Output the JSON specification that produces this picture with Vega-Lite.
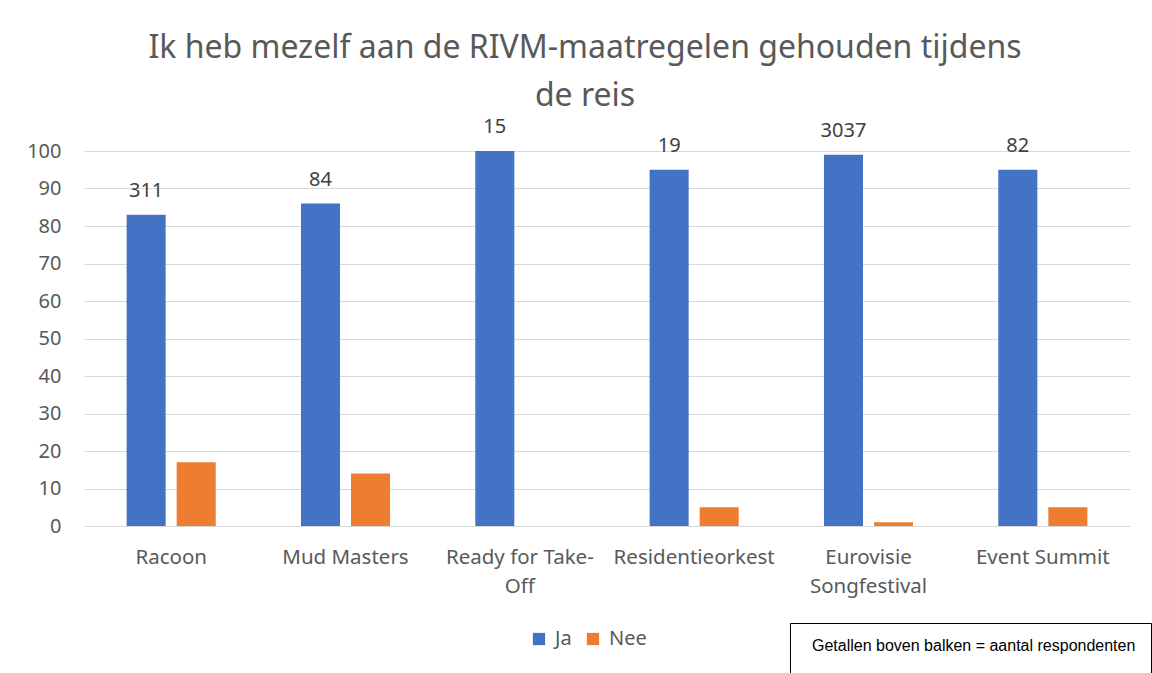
{
  "$schema": "https://vega.github.io/schema/vega-lite/v6.json",
  "width": 1046,
  "height": 375,
  "autosize": "none",
  "padding": {"left": 84, "top": 151, "right": 22, "bottom": 147},
  "background": "white",
  "title": {
    "text": ["Ik heb mezelf aan de RIVM-maatregelen gehouden tijdens", "de reis"],
    "fontSize": 32,
    "font": "Noto Sans",
    "fontWeight": "normal",
    "color": "#595959",
    "lineHeight": 48,
    "anchor": "middle",
    "dx": -22,
    "offset": 4
  },
  "config": {
    "font": "Noto Sans",
    "view": {"stroke": null}
  },
  "data": {
    "values": [
      {"event": "Racoon", "antwoord": "Ja", "pct": 83, "n": 311},
      {"event": "Racoon", "antwoord": "Nee", "pct": 17},
      {"event": "Mud Masters", "antwoord": "Ja", "pct": 86, "n": 84},
      {"event": "Mud Masters", "antwoord": "Nee", "pct": 14},
      {"event": "Ready for Take-Off", "antwoord": "Ja", "pct": 100, "n": 15},
      {"event": "Ready for Take-Off", "antwoord": "Nee", "pct": 0},
      {"event": "Residentieorkest", "antwoord": "Ja", "pct": 95, "n": 19},
      {"event": "Residentieorkest", "antwoord": "Nee", "pct": 5},
      {"event": "Eurovisie Songfestival", "antwoord": "Ja", "pct": 99, "n": 3037},
      {"event": "Eurovisie Songfestival", "antwoord": "Nee", "pct": 1},
      {"event": "Event Summit", "antwoord": "Ja", "pct": 95, "n": 82},
      {"event": "Event Summit", "antwoord": "Nee", "pct": 5}
    ]
  },
  "encoding": {
    "x": {
      "field": "event",
      "type": "nominal",
      "sort": null,
      "scale": {"paddingInner": 0.489, "paddingOuter": 0.2445},
      "axis": {
        "title": null,
        "domain": false,
        "ticks": false,
        "labelAngle": 0,
        "labelFontSize": 20.5,
        "labelColor": "#595959",
        "labelPadding": 21,
        "labelLineHeight": 29,
        "labelLimit": 0,
        "labelExpr": "datum.value == 'Ready for Take-Off' ? ['Ready for Take-', 'Off'] : datum.value == 'Eurovisie Songfestival' ? ['Eurovisie', 'Songfestival'] : datum.value"
      }
    },
    "y": {
      "field": "pct",
      "type": "quantitative",
      "scale": {"domain": [0, 100], "nice": false},
      "axis": {
        "title": null,
        "domain": false,
        "ticks": false,
        "values": [0, 10, 20, 30, 40, 50, 60, 70, 80, 90, 100],
        "labelFontSize": 20,
        "labelColor": "#595959",
        "labelPadding": 23,
        "gridColor": "#d9d9d9",
        "gridWidth": 1
      }
    },
    "xOffset": {
      "field": "antwoord",
      "type": "nominal",
      "scale": {"domain": ["Ja", "Nee"], "paddingInner": 0.22, "paddingOuter": 0}
    }
  },
  "layer": [
    {
      "mark": {"type": "bar"},
      "encoding": {
        "color": {
          "field": "antwoord",
          "type": "nominal",
          "scale": {"domain": ["Ja", "Nee"], "range": ["#4472C4", "#ED7D31"]},
          "legend": {
            "title": null,
            "orient": "none",
            "legendX": 445,
            "legendY": 478,
            "direction": "horizontal",
            "symbolType": "square",
            "symbolSize": 150,
            "symbolStrokeWidth": 0,
            "labelFontSize": 20,
            "labelColor": "#595959",
            "labelOffset": 6,
            "columnPadding": 11
          }
        }
      }
    },
    {
      "transform": [{"filter": "datum.antwoord == 'Ja'"}],
      "mark": {"type": "text", "baseline": "middle", "dy": -24, "fontSize": 20, "color": "#404040"},
      "encoding": {
        "text": {"field": "n", "type": "quantitative"}
      }
    },
    {
      "mark": {"type": "point", "opacity": 0},
      "encoding": {
        "shape": {
          "datum": "Getallen boven balken = aantal respondenten",
          "legend": {
            "title": null,
            "orient": "none",
            "legendX": 706,
            "legendY": 472,
            "padding": 15,
            "strokeColor": "#000000",
            "fillColor": "white",
            "symbolSize": 0,
            "symbolOpacity": 0,
            "symbolStrokeWidth": 0,
            "labelOffset": -9,
            "labelFont": "Liberation Sans",
            "labelFontSize": 16,
            "labelColor": "#000000",
            "labelLimit": 0,
            "labelLineHeight": 14,
            "labelExpr": "[datum.label, '']"
          }
        }
      }
    }
  ]
}
